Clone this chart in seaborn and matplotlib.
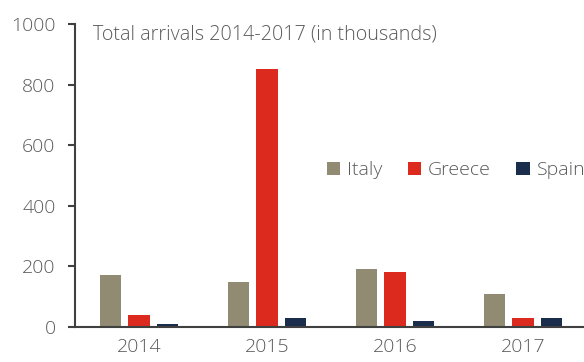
import matplotlib
matplotlib.use("Agg")
import matplotlib.pyplot as plt
import seaborn as sns
import pandas as pd

# Arrivals by sea, thousands
years = ["2014", "2015", "2016", "2017"]
countries = ["Italy", "Greece", "Spain"]
italy = [170, 150, 190, 110]
greece = [40, 850, 180, 30]
spain = [10, 30, 20, 30]
colors = ["#928b73", "#dc2a1f", "#1a2d4d"]
y_ticks = [0, 200, 400, 600, 800, 1000]

df = pd.DataFrame({
    "year": years * 3,
    "country": [c for c in countries for _ in years],
    "arrivals": italy + greece + spain,
})

sns.set_theme(style="white")
plt.rcParams["font.family"] = ["Open Sans", "DejaVu Sans"]
plt.rcParams["font.weight"] = "light"

text_col = "#5a5a5a"
axis_col = "#404040"

fig = plt.figure(figsize=(5.84, 3.62), dpi=100)
ax = fig.add_axes([75 / 584, 35 / 362, 509 / 584, 303 / 362])

sns.barplot(data=df, x="year", y="arrivals", hue="country", order=years,
            hue_order=countries, palette=colors, width=0.667, gap=0.23,
            saturation=1, linewidth=0, ax=ax)

ax.set_xlim(-0.5, -0.5 + 509 / 128)
ax.set_ylim(0, 1000)
ax.set_xlabel("")
ax.set_ylabel("")

# category boundaries carry the tick marks, centres carry the labels
ax.set_xticks([-0.5, 0.5, 1.5, 2.5])
ax.set_xticklabels([])
ax.set_xticks(range(len(years)), minor=True)
ax.set_xticklabels(years, minor=True)
ax.tick_params(axis="x", which="major", length=5, width=1.5, color=axis_col,
               direction="out")
ax.tick_params(axis="x", which="minor", length=0, pad=8, labelsize=14,
               labelcolor=text_col)

ax.set_yticks(y_ticks)
ax.set_yticklabels([str(v) for v in y_ticks])
ax.tick_params(axis="y", length=5, width=1.5, color=axis_col, direction="out",
               pad=9, labelsize=14, labelcolor=text_col, left=True)

for side in ["top", "right"]:
    ax.spines[side].set_visible(False)
for side in ["left", "bottom"]:
    ax.spines[side].set_color(axis_col)
    ax.spines[side].set_linewidth(1.5)

fig.text(93 / 584, 1 - 40 / 362, "Total arrivals 2014-2017 (in thousands)",
         fontsize=14.2, color=text_col, va="baseline", ha="left")

leg = ax.legend(loc="center right", bbox_to_anchor=(1.018, 0.517), ncol=3,
                frameon=False, handlelength=0.7, handleheight=0.7,
                handletextpad=0.35, columnspacing=1.3, fontsize=14,
                borderaxespad=0, labelcolor=text_col)

fig.savefig("out.png", dpi=100)
